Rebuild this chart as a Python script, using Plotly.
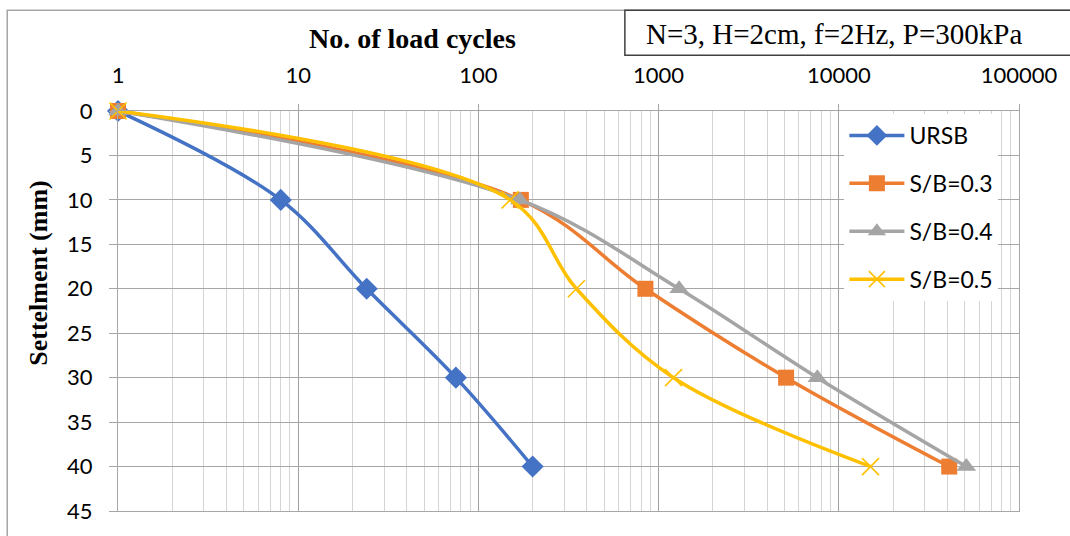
import plotly.graph_objects as go

# ---- data ----
settlement = [0, 10, 20, 30, 40]
cycles_ursb = [1, 8, 24, 75, 200]
cycles_sb03 = [1, 172, 845, 5100, 41000]
cycles_sb04 = [1, 170, 1300, 7600, 51000]
cycles_sb05 = [1, 150, 350, 1210, 15000]

series_names = ["URSB", "S/B=0.3", "S/B=0.4", "S/B=0.5"]
series_colors = ["#4472C4", "#ED7D31", "#A5A5A5", "#FFC000"]
series_symbols = ["diamond", "square", "triangle-up", "x-thin"]

x_tickvals = [1, 10, 100, 1000, 10000, 100000]
x_ticktext = ["1", "10", "100", "1000", "10000", "100000"]
y_tickvals = [0, 5, 10, 15, 20, 25, 30, 35, 40, 45]

x_title = "No. of load cycles"
y_title = "Settelment (mm)"
box_text = "N=3, H=2cm, f=2Hz, P=300kPa"

W, H = 1070, 536
L, R, T, B = 118, 1021, 111, 512


def px2x(px):
    return (px - L) / (R - L)


def px2y(py):
    return (B - py) / (B - T)


fig = go.Figure()
all_x = [cycles_ursb, cycles_sb03, cycles_sb04, cycles_sb05]
sizes = {"diamond": 17, "square": 16, "triangle-up": 17, "x-thin": 17}
for i, (name, xs) in enumerate(zip(series_names, all_x)):
    sym = series_symbols[i]
    marker = dict(symbol=sym, color=series_colors[i], size=sizes[sym])
    if sym == "x-thin":
        marker["line"] = dict(color=series_colors[i], width=1.6)
    fig.add_trace(go.Scatter(
        x=xs, y=settlement, name=name, mode="lines+markers",
        line=dict(color=series_colors[i], width=3.5, shape="spline", smoothing=1.0),
        marker=marker, legendgroup=name, cliponaxis=False,
    ))

axis_font = dict(family="Lato", size=22, color="#000000")

fig.update_layout(
    width=W, height=H,
    margin=dict(l=L, r=W - R, t=T, b=H - B, pad=0),
    paper_bgcolor="white", plot_bgcolor="white",
    showlegend=True,
    legend=dict(
        x=px2x(846), y=px2y(114), xanchor="left", yanchor="top",
        bgcolor="white", borderwidth=0,
        font=dict(family="Lato", size=23, color="#000000"),
        traceorder="grouped", tracegroupgap=15, itemwidth=55,
    ),
    xaxis=dict(
        type="log", range=[0, 5], side="top",
        tickvals=x_tickvals, ticktext=x_ticktext,
        tickfont=axis_font,
        showgrid=True, gridcolor="#A0A0A0", gridwidth=1,
        minor=dict(dtick="D1", showgrid=True, gridcolor="#D4D4D4", gridwidth=1,
                   ticks=""),
        showline=True, linecolor="#A6A6A6", linewidth=1.2, mirror=True,
        ticks="outside", ticklen=6, tickcolor="#A6A6A6",
        ticklabelstandoff=12,
        zeroline=False,
    ),
    yaxis=dict(
        range=[45, 0], tickvals=y_tickvals,
        tickfont=axis_font,
        showgrid=True, gridcolor="#A6A6A6", gridwidth=1,
        showline=True, linecolor="#A6A6A6", linewidth=1.2, mirror=True,
        ticks="outside", ticklen=8, tickcolor="#A6A6A6",
        ticklabelstandoff=12,
        zeroline=False,
    ),
)

# axis titles as annotations (positioned like the reference)
fig.add_annotation(
    text="<b>" + x_title + "</b>", xref="paper", yref="paper",
    x=px2x(413), y=px2y(38), xanchor="center", yanchor="middle",
    showarrow=False,
    font=dict(family="Liberation Serif", size=28, color="#000000"),
)
fig.add_annotation(
    text="<b>" + y_title + "</b>", xref="paper", yref="paper",
    x=px2x(38), y=px2y(273), xanchor="center", yanchor="middle",
    textangle=-90, showarrow=False,
    font=dict(family="Liberation Serif", size=26, color="#000000"),
)

# info text box
fig.add_shape(
    type="rect", xref="paper", yref="paper",
    x0=px2x(626), x1=px2x(1080), y0=px2y(55), y1=px2y(10),
    line=dict(color="#404040", width=1.5), fillcolor="white", layer="above",
)
fig.add_annotation(
    text=box_text, xref="paper", yref="paper",
    x=px2x(836), y=px2y(34), xanchor="center", yanchor="middle",
    showarrow=False,
    font=dict(family="Liberation Serif", size=29, color="#000000"),
)

# outer chart border
fig.add_shape(
    type="rect", xref="paper", yref="paper",
    x0=px2x(7), x1=px2x(1085), y0=px2y(560), y1=px2y(10),
    line=dict(color="#A6A6A6", width=1.5), fillcolor="rgba(0,0,0,0)", layer="below",
)

fig.write_html("out.html",
               config={"displayModeBar": False},
               post_script="document.body.style.margin='0';document.body.style.overflow='hidden';")
